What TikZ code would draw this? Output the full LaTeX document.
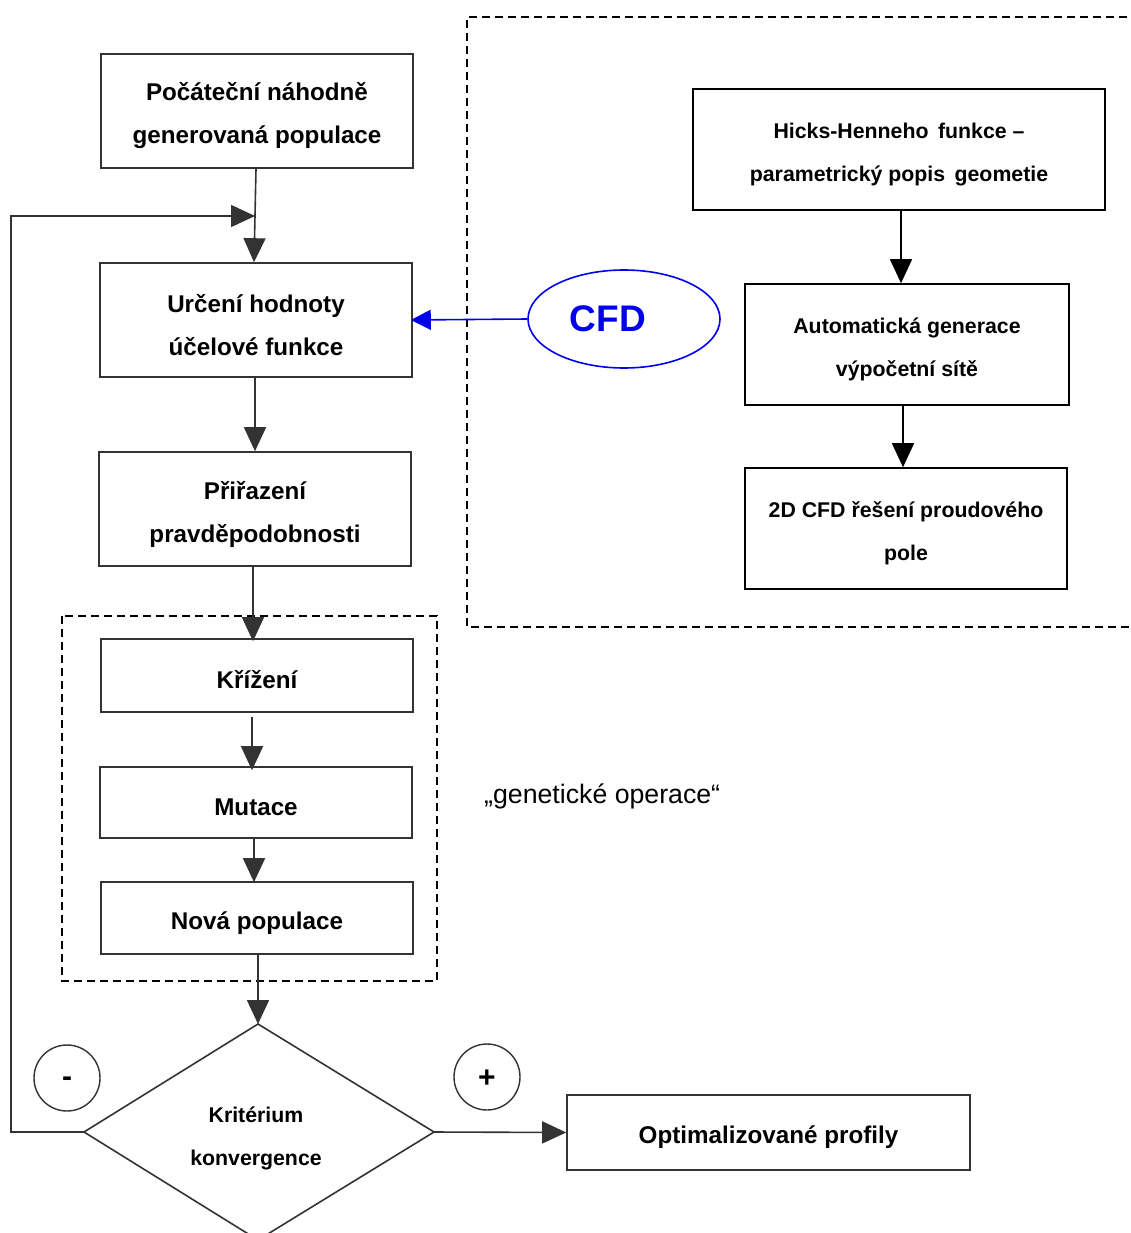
\documentclass[tikz,border=0pt]{standalone}
\usepackage{fontspec}
\setmainfont{Liberation Sans}
\usetikzlibrary{arrows.meta,shapes.geometric}
\definecolor{dg}{HTML}{333333}
\definecolor{cfdblue}{HTML}{0000EE}
\begin{document}
\begin{tikzpicture}[x=1pt,y=-1pt,
  box/.style={draw=dg,line width=1.6pt,minimum width=312pt,minimum height=114pt,inner sep=0pt},
  rbox/.style={draw=black,line width=1.6pt,minimum height=121pt,inner sep=0pt},
  ltxt/.style={align=center,yshift=-5pt,inner sep=0pt,font=\fontsize{24.2}{43}\selectfont\bfseries},
  rtxt/.style={align=center,yshift=-5pt,inner sep=0pt,font=\fontsize{21.3}{43}\selectfont\bfseries},
  arr/.style={draw=dg,line width=1.6pt,-{Triangle[length=24pt,width=22pt]}},
  rarr/.style={draw=black,line width=1.6pt,-{Triangle[length=24pt,width=22pt]}},
  dbox/.style={draw=black,line width=1.6pt,dash pattern=on 8pt off 5pt},
  sign/.style={draw=dg,line width=1.4pt,circle,minimum size=66pt,inner sep=0pt}
]
\useasboundingbox (0,0) rectangle (1131,1233);
\clip (0,0) rectangle (1131,1233);
\fill[white] (0,0) rectangle (1131,1233);

% dashed groups
\draw[dbox] (1140,17) -- (467,17) -- (467,627) -- (1140,627);
\draw[dbox] (62,616) rectangle (437,981);

% left column
\node[box,label={[ltxt]center:{Počáteční náhodně\\generovaná populace}}] (b1) at (257,111) {};
\node[box,label={[ltxt]center:{Určení hodnoty\\účelové funkce}}] (b2) at (256,320) {};
\node[box,label={[ltxt]center:{Přiřazení\\pravděpodobnosti}}] (b3) at (255,509) {};
\node[box,minimum height=73pt,label={[ltxt,yshift=1pt]center:{Křížení}}] (b4) at (257,675.5) {};
\node[box,minimum height=71pt,label={[ltxt]center:{Mutace}}] (b5) at (256,802.5) {};
\node[box,minimum height=72pt,label={[ltxt]center:{Nová populace}}] (b6) at (257,918) {};

% diamond
\coordinate (dt) at (258,1024);
\coordinate (dl) at (84,1132);
\coordinate (dr) at (434,1132);
\coordinate (db) at (258,1240);
\draw[dg,line width=1.6pt] (dt) -- (dr) -- (db) -- (dl) -- cycle;
\node[rtxt] (krit) at (256,1133) {Kritérium\\konvergence};

\node[sign,label={[font=\fontsize{30}{34}\selectfont\bfseries,yshift=-4pt]center:-}] (minus) at (67,1078) {};
\node[sign,label={[font=\fontsize{30}{34}\selectfont\bfseries,yshift=-2pt]center:+}] (plus) at (487,1077) {};

\node[draw=dg,line width=1.6pt,minimum width=403pt,minimum height=75pt,inner sep=0pt,label={[ltxt]center:{Optimalizované profily}}] (opt) at (768.5,1132.5) {};

% right column
\node[rbox,minimum width=412pt,label={[rtxt]center:{Hicks-Henneho\, funkce –\\parametrický popis\, geometie}}] (hh) at (899,149.5) {};
\node[rbox,minimum width=324pt,label={[rtxt]center:{Automatická generace\\výpočetní sítě}}] (auto) at (907,344.5) {};
\node[rbox,minimum width=322pt,label={[rtxt]center:{2D CFD řešení proudového\\pole}}] (cfd2d) at (906,528.5) {};

% CFD ellipse
\node[draw=cfdblue,line width=1.6pt,ellipse,minimum width=192pt,minimum height=98pt,inner sep=0pt,text=cfdblue,font=\fontsize{37}{40}\selectfont\bfseries] (cfd) at (624,319) {\hspace*{-32pt}CFD};

\node[font=\fontsize{26.7}{30}\selectfont,anchor=west,inner sep=0pt] (gen) at (484,796) {„genetické operace“};

% connectors
\coordinate (j) at (255,216);
\draw[arr] (b1.south -| 256,0) -- (b2.north -| 254,0);
\draw[arr] (dl) -- (11,1132) |- (j);
\draw[arr] (b2.south -| 255,0) -- (b3.north -| 255,0);
\draw[arr] (b3.south -| 253,0) -- ([yshift=-3pt]b4.north -| 253,0);
\draw[arr,shorten <=4pt] (b4.south -| 252,0) -- ([yshift=-4pt]b5.north -| 252,0);
\draw[arr] (b5.south -| 254,0) -- ([yshift=-1pt]b6.north -| 254,0);
\draw[arr] (b6.south -| dt) -- (dt);
\draw[arr] (dr) -- (opt.west);
\draw[draw=cfdblue,line width=1.6pt,-{Triangle[length=20pt,width=20pt]}] (cfd.west) -- ([xshift=-2pt]b2.east);
\draw[rarr] (hh.south -| 901,0) -- (auto.north -| 901,0);
\draw[rarr] (auto.south -| 903,0) -- (cfd2d.north -| 903,0);
\end{tikzpicture}
\end{document}
